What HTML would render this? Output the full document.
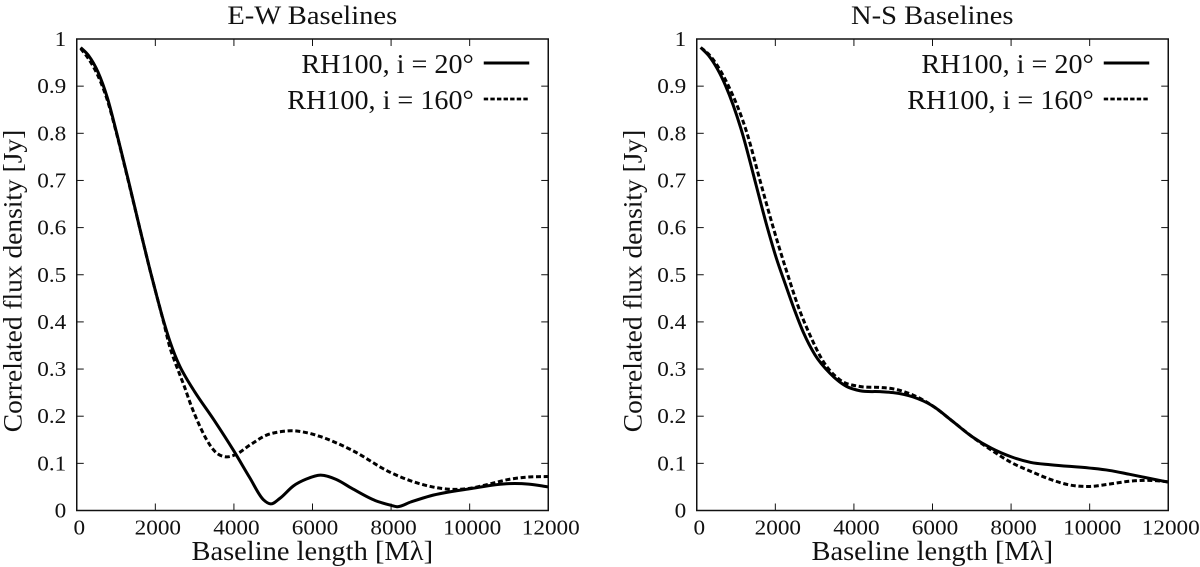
<!DOCTYPE html>
<html>
<head>
<meta charset="utf-8">
<title>Correlated flux density vs baseline length</title>
<style>
html,body{margin:0;padding:0;background:#fff;}
svg{display:block;}
text{font-family:"Liberation Serif",serif;fill:#111;}
.tick{font-size:21.5px;}
.title{font-size:26px;}
.axis-label{font-size:27px;}
.y-label{font-size:26px;}
.legend-text{font-size:27px;}
</style>
</head>
<body>
<svg id="chart" xmlns="http://www.w3.org/2000/svg" width="1200" height="567" viewBox="0 0 1200 567"></svg>
<script>
const xTickValues = [0, 2000, 4000, 6000, 8000, 10000, 12000];
const yTickValues = [0, 0.1, 0.2, 0.3, 0.4, 0.5, 0.6, 0.7, 0.8, 0.9, 1];
const yTickLabels = ['0', '0.1', '0.2', '0.3', '0.4', '0.5', '0.6', '0.7', '0.8', '0.9', '1'];
const legendLabels = ['RH100, i = 20°', 'RH100, i = 160°'];

const ewSolidX = [100, 300, 540, 780, 1018, 1300, 1600, 1864, 2017, 2203, 2374, 2628, 2800, 3000, 3500, 4000, 4400, 4750, 4936, 5173, 5512, 5853, 6200, 6600, 7000, 7600, 8000, 8150, 8500, 9000, 10000, 11000, 11500, 12000];
const ewSolidY = [0.982, 0.965, 0.93, 0.875, 0.8, 0.705, 0.6, 0.51, 0.461, 0.404, 0.358, 0.305, 0.279, 0.252, 0.191, 0.126, 0.07, 0.023, 0.014, 0.026, 0.052, 0.067, 0.075, 0.066, 0.047, 0.021, 0.011, 0.008, 0.018, 0.031, 0.046, 0.057, 0.056, 0.05];
const ewDashX = [100, 300, 540, 780, 1018, 1300, 1600, 1864, 2017, 2203, 2374, 2500, 2628, 2730, 2900, 3137, 3307, 3519, 3773, 4028, 4410, 4834, 5173, 5512, 5853, 6191, 7000, 8000, 9000, 9500, 10000, 10500, 11000, 11500, 12000];
const ewDashY = [0.98, 0.958, 0.922, 0.87, 0.798, 0.703, 0.6, 0.51, 0.461, 0.402, 0.345, 0.315, 0.287, 0.265, 0.225, 0.178, 0.15, 0.125, 0.114, 0.118, 0.139, 0.16, 0.167, 0.169, 0.165, 0.157, 0.128, 0.08, 0.051, 0.045, 0.047, 0.056, 0.066, 0.071, 0.072];

const nsSolidX = [100, 300, 738, 1160, 1480, 1780, 2034, 2246, 2458, 2712, 3010, 3391, 3816, 4155, 4664, 5000, 5500, 6000, 6500, 7000, 7500, 8000, 8500, 9000, 10000, 10500, 11000, 12000];
const nsSolidY = [0.982, 0.965, 0.9, 0.8, 0.7, 0.605, 0.533, 0.482, 0.432, 0.378, 0.33, 0.291, 0.263, 0.254, 0.252, 0.25, 0.241, 0.222, 0.19, 0.157, 0.132, 0.114, 0.102, 0.097, 0.09, 0.085, 0.077, 0.06];
const nsDashX = [100, 300, 810, 1280, 1610, 1940, 2119, 2331, 2585, 2882, 3221, 3646, 4155, 4664, 5000, 5500, 6000, 6500, 7000, 7500, 8000, 8500, 9000, 9500, 10000, 10500, 11000, 11500, 12000];
const nsDashY = [0.982, 0.968, 0.9, 0.8, 0.7, 0.602, 0.552, 0.496, 0.432, 0.372, 0.316, 0.277, 0.263, 0.261, 0.258, 0.245, 0.222, 0.19, 0.157, 0.128, 0.102, 0.083, 0.066, 0.054, 0.051, 0.056, 0.062, 0.064, 0.061];

const NS = 'http://www.w3.org/2000/svg';
const svg = document.getElementById('chart');

function make(parent, tag, attrs, text) {
  const el = document.createElementNS(NS, tag);
  for (const k in attrs) el.setAttribute(k, attrs[k]);
  if (text !== undefined) el.textContent = text;
  parent.appendChild(el);
  return el;
}

function smoothPath(px, py) {
  const n = px.length, d = [], m = [];
  for (let i = 0; i < n - 1; i++) d.push((py[i + 1] - py[i]) / (px[i + 1] - px[i]));
  m[0] = d[0];
  m[n - 1] = d[n - 2];
  for (let i = 1; i < n - 1; i++) {
    const h0 = px[i] - px[i - 1], h1 = px[i + 1] - px[i];
    m[i] = (d[i - 1] * h1 + d[i] * h0) / (h0 + h1);
  }
  let out = 'M' + px[0].toFixed(2) + ' ' + py[0].toFixed(2);
  for (let i = 0; i < n - 1; i++) {
    const h = (px[i + 1] - px[i]) / 3;
    out += ' C' + (px[i] + h).toFixed(2) + ' ' + (py[i] + m[i] * h).toFixed(2) + ' ' +
      (px[i + 1] - h).toFixed(2) + ' ' + (py[i + 1] - m[i + 1] * h).toFixed(2) + ' ' +
      px[i + 1].toFixed(2) + ' ' + py[i + 1].toFixed(2);
  }
  return out;
}

function drawPanel(prefix, title, left, solidX, solidY, dashX, dashY) {
  const top = 39, bottom = 510.5, width = 471.5;
  const xScale = v => left + v / 12000 * width;
  const yScale = v => bottom - v * (bottom - top);
  const g = make(svg, 'g', {});
  
  

  const titleEl = make(g, 'text', {transform: 'translate(' + (left + 235.5) + ' 24) scale(1.098 1)', 'text-anchor': 'middle', class: 'title'}, title);
  
  

  xTickValues.forEach(v => {
    const x = xScale(v);
    if (v > 0 && v < 12000) {
      const t1 = make(g, 'line', {x1: x, x2: x, y1: bottom, y2: bottom - 7, stroke: '#111', 'stroke-width': 1});
      
      
      const t2 = make(g, 'line', {x1: x, x2: x, y1: top, y2: top + 7, stroke: '#111', 'stroke-width': 1});
      
      
    }
    const label = make(g, 'text', {transform: 'translate(' + (x + 2.5) + ' 534.5) scale(1.08 1)', 'text-anchor': 'middle', class: 'tick'}, String(v));
    
    
  });

  yTickValues.forEach((v, i) => {
    const y = yScale(v);
    if (v > 0 && v < 1) {
      const t1 = make(g, 'line', {x1: left, x2: left + 7, y1: y, y2: y, stroke: '#111', 'stroke-width': 1});
      
      
      const t2 = make(g, 'line', {x1: left + width, x2: left + width - 7, y1: y, y2: y, stroke: '#111', 'stroke-width': 1});
      
      
    }
    const label = make(g, 'text', {transform: 'translate(' + (left - 10.5) + ' ' + (y + 7) + ') scale(1.08 1)', 'text-anchor': 'end', class: 'tick'}, yTickLabels[i]);
    
    
  });

  const dash = make(g, 'path', {d: smoothPath(dashX.map(xScale), dashY.map(yScale)), fill: 'none', stroke: '#000', 'stroke-width': 3, 'stroke-dasharray': '5 2.7'});
  
  
  const solid = make(g, 'path', {d: smoothPath(solidX.map(xScale), solidY.map(yScale)), fill: 'none', stroke: '#000', 'stroke-width': 3});
  
  

  const frame = make(g, 'rect', {x: left, y: top, width: width, height: bottom - top, fill: 'none', stroke: '#111', 'stroke-width': 1.5});
  
  

  const xTitle = make(g, 'text', {transform: 'translate(' + (left + 235.5) + ' 560) scale(1.055 1)', 'text-anchor': 'middle', class: 'axis-label'}, 'Baseline length [Mλ]');
  
  
  const yTitle = make(g, 'text', {transform: 'translate(' + (left - 55.5) + ' 281) rotate(-90) scale(1.056 1)', 'text-anchor': 'middle', class: 'y-label'}, 'Correlated flux density [Jy]');
  
  

  legendLabels.forEach((txt, i) => {
    const ly = 63 + i * 36;
    const lt = make(g, 'text', {transform: 'translate(' + (left + 397) + ' ' + (ly + 10) + ') scale(1.042 1)', 'text-anchor': 'end', class: 'legend-text'}, txt);
    
    
    const attrs = {x1: left + 407, x2: left + 452.5, y1: ly, y2: ly, stroke: '#000', 'stroke-width': i ? 2.8 : 3};
    if (i) attrs['stroke-dasharray'] = '4.4 2.2';
    const ll = make(g, 'line', attrs);
    
    
  });
}

drawPanel('ew', 'E-W Baselines', 76.75, ewSolidX, ewSolidY, ewDashX, ewDashY);
drawPanel('ns', 'N-S Baselines', 696.75, nsSolidX, nsSolidY, nsDashX, nsDashY);
</script>
</body>
</html>
